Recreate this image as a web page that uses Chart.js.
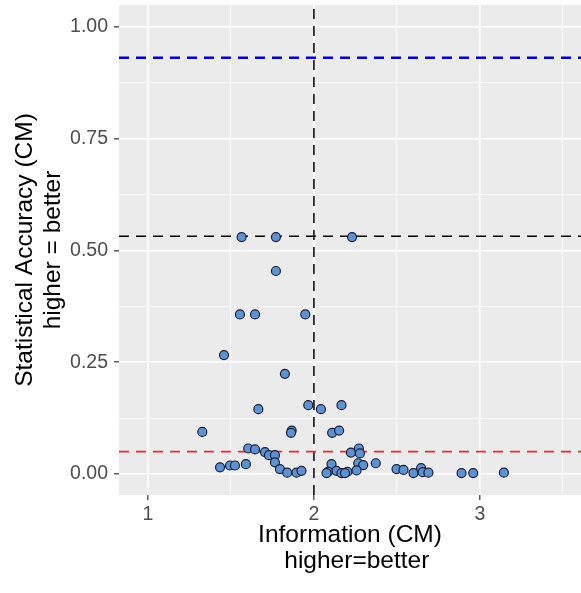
<!DOCTYPE html>
<html>
<head>
<meta charset="utf-8">
<script src="https://cdn.jsdelivr.net/npm/chart.js@4.4.1/dist/chart.umd.min.js"></script>
<style>
  html, body { margin: 0; padding: 0; background: #ffffff; }
  canvas { display: block; }
</style>
</head>
<body>
<canvas id="chart" width="581" height="593"></canvas>
<script>
// points
const infoValues = [
  1.564, 1.771, 2.230, 1.771, 1.554, 1.645, 1.948, 1.458, 1.825, 1.665,
  1.966, 2.042, 2.166, 1.327, 1.866, 1.862, 2.110, 2.152,
  1.604, 1.645, 1.705, 1.729, 1.765, 2.223, 2.271, 2.277,
  1.765, 1.795, 1.839, 1.895, 1.925, 1.434, 1.494, 1.524, 1.590,
  2.267, 2.297, 2.373, 2.106, 2.086, 2.136, 2.166, 2.202, 2.257,
  2.498, 2.540, 2.600, 2.646, 2.656, 2.690, 2.890, 2.960, 3.145,
  2.076, 2.187
];
const accuracyValues = [
  0.530, 0.530, 0.530, 0.454, 0.357, 0.357, 0.357, 0.266, 0.224, 0.145,
  0.154, 0.145, 0.154, 0.094, 0.097, 0.092, 0.092, 0.097,
  0.057, 0.055, 0.049, 0.042, 0.042, 0.048, 0.057, 0.046,
  0.026, 0.011, 0.003, 0.003, 0.007, 0.015, 0.019, 0.019, 0.022,
  0.024, 0.020, 0.024, 0.022, 0.005, 0.007, 0.002, 0.005, 0.008,
  0.011, 0.009, 0.002, 0.013, 0.004, 0.003, 0.002, 0.002, 0.003,
  0.002, 0.002
];

// reference lines
const hLineValues = [0.931, 0.532, 0.05];
const hLineColors = ['#0000CC', '#000000', '#E8283E'];
const hLineWidths = [2.4, 1.5, 1.6];
const vLineValue = 2;

// axes
const xRange = [0.825, 3.61];
const yRange = [-0.047, 1.049];
const xTicks = [1, 2, 3];
const xMinorTicks = [1.5, 2.5, 3.5];
const yTicks = [0, 0.25, 0.5, 0.75, 1];
const yMinorTicks = [0.125, 0.375, 0.625, 0.875];
const yTickLabels = ['0.00', '0.25', '0.50', '0.75', '1.00'];

const points = infoValues.map((x, i) => ({ x: x, y: accuracyValues[i] }));

const lineSets = hLineValues.map((v, i) => ({
  data: [{ x: xRange[0], y: v }, { x: xRange[1], y: v }],
  showLine: true,
  pointRadius: 0,
  borderColor: hLineColors[i],
  borderWidth: hLineWidths[i],
  borderDash: [10, 7]
}));
lineSets.push({
  data: [{ x: vLineValue, y: yRange[0] }, { x: vLineValue, y: yRange[1] }],
  showLine: true,
  pointRadius: 0,
  borderColor: '#000000',
  borderWidth: 1.5,
  borderDash: [10, 7]
});

const panelBg = {
  id: 'panelBg',
  beforeDraw(chart) {
    const a = chart.chartArea;
    const ctx = chart.ctx;
    ctx.save();
    ctx.fillStyle = '#EBEBEB';
    ctx.fillRect(a.left, a.top, a.right - a.left, a.bottom - a.top);
    ctx.restore();
  }
};

function makeTicks(major, minor) {
  return function (scale) {
    const all = major.concat(minor).sort((a, b) => a - b);
    scale.ticks = all.map(v => ({ value: v }));
  };
}

// no extra room for half tick labels, the panel goes to the edges
function noPad(scale) {
  scale.paddingTop = 0;
  scale.paddingBottom = 0;
  scale.paddingLeft = 0;
  scale.paddingRight = 0;
}

const tickFont = { family: '"Liberation Sans", Arial, sans-serif', size: 19.5 };
const titleFont = { family: '"Liberation Sans", Arial, sans-serif', size: 24.5, lineHeight: 1.05 };

new Chart(document.getElementById('chart').getContext('2d'), {
  type: 'scatter',
  data: {
    datasets: [{
      data: points,
      pointRadius: 4.5,
      pointBorderWidth: 1.2,
      pointBackgroundColor: '#5E92D0',
      pointBorderColor: '#16203A'
    }].concat(lineSets)
  },
  options: {
    responsive: false,
    animation: false,
    devicePixelRatio: 1,
    layout: { autoPadding: false, padding: { top: 5, right: 0, left: 0, bottom: 0 } },
    plugins: { legend: { display: false }, tooltip: { enabled: false } },
    scales: {
      x: {
        type: 'linear',
        min: xRange[0],
        max: xRange[1],
        afterBuildTicks: makeTicks(xTicks, xMinorTicks),
        afterFit(scale) { scale.height = 98; noPad(scale); },
        border: { display: false },
        grid: {
          color: '#FFFFFF',
          lineWidth: ctx => xTicks.includes(ctx.tick.value) ? 1.6 : 0.8,
          tickColor: ctx => xTicks.includes(ctx.tick.value) ? '#333333' : 'rgba(0,0,0,0)',
          tickWidth: 1.2,
          tickLength: 5
        },
        ticks: {
          autoSkip: false,
          maxRotation: 0,
          padding: 3,
          color: '#4D4D4D',
          font: tickFont,
          callback: v => xTicks.includes(v) ? String(v) : ''
        },
        title: {
          display: true,
          text: ['Information (CM)', '  higher=better'],
          color: '#000000',
          font: titleFont,
          padding: { top: 0, bottom: 19 }
        }
      },
      y: {
        type: 'linear',
        min: yRange[0],
        max: yRange[1],
        afterBuildTicks: makeTicks(yTicks, yMinorTicks),
        afterFit(scale) { scale.width = 119; noPad(scale); },
        border: { display: false },
        grid: {
          color: '#FFFFFF',
          lineWidth: ctx => yTicks.includes(ctx.tick.value) ? 1.6 : 0.8,
          tickColor: ctx => yTicks.includes(ctx.tick.value) ? '#333333' : 'rgba(0,0,0,0)',
          tickWidth: 1.2,
          tickLength: 5
        },
        ticks: {
          autoSkip: false,
          padding: 6,
          color: '#4D4D4D',
          font: tickFont,
          callback: v => {
            const i = yTicks.indexOf(v);
            return i >= 0 ? yTickLabels[i] : '';
          }
        },
        title: {
          display: true,
          text: ['Statistical Accuracy (CM)', 'higher = better'],
          color: '#000000',
          font: { family: titleFont.family, size: 24.5, lineHeight: 1.15 },
          padding: { top: 11, bottom: 0 }
        }
      }
    }
  },
  plugins: [panelBg]
});
</script>
</body>
</html>
